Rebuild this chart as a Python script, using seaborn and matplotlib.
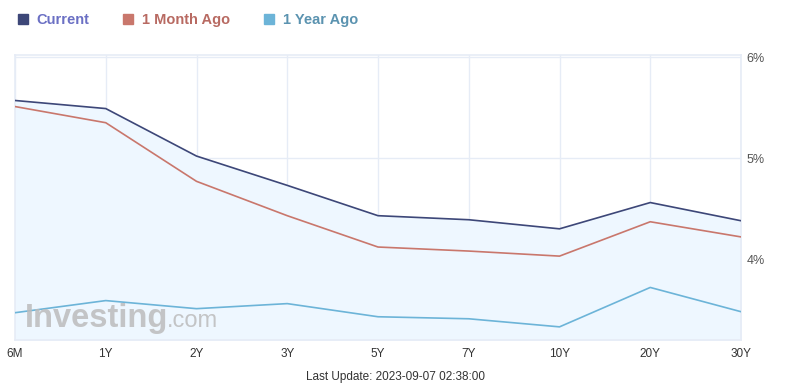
import matplotlib
matplotlib.use("Agg")
import matplotlib.pyplot as plt
import seaborn as sns
import pandas as pd
import numpy as np
from matplotlib.patches import Patch

maturities = ["6M", "1Y", "2Y", "3Y", "5Y", "7Y", "10Y", "20Y", "30Y"]
current = [5.57, 5.49, 5.02, 4.73, 4.43, 4.39, 4.30, 4.56, 4.38]
month_ago = [5.51, 5.35, 4.77, 4.43, 4.12, 4.08, 4.03, 4.37, 4.22]
year_ago = [3.47, 3.59, 3.51, 3.56, 3.43, 3.41, 3.33, 3.72, 3.48]
series_names = ["Current", "1 Month Ago", "1 Year Ago"]
y_ticks = [4, 5, 6]

line_colors = ["#3d4778", "#c9776c", "#6cb4d8"]
text_colors = ["#6b70c4", "#b86a62", "#5b93b0"]

sns.set_theme(style="white")
plt.rcParams["font.family"] = ["Liberation Sans", "DejaVu Sans"]

df = pd.DataFrame({
    "maturity": maturities * 3,
    "pos": list(range(len(maturities))) * 3,
    "yield": current + month_ago + year_ago,
    "series": [s for s in series_names for _ in maturities],
})

W, H = 789, 391
fig = plt.figure(figsize=(W / 100, H / 100), dpi=100)
ax = fig.add_axes([15 / W, 1 - 340 / H, (741 - 15) / W, (340 - 55) / H])

pos = np.arange(len(maturities))
ax.fill_between(pos, current, 3.0, color="#eef7ff", zorder=1)

sns.lineplot(data=df, x="pos", y="yield", hue="series", hue_order=series_names,
             palette=line_colors, linewidth=1.2, ax=ax, legend=False, zorder=3)

ax.set_xlim(0, len(maturities) - 1)
ax.set_ylim(3.2, 6.02)
ax.set_xticks(pos)
ax.set_xticklabels(maturities)
ax.set_yticks(y_ticks)
ax.set_yticklabels([f"{v}%" for v in y_ticks])
ax.yaxis.tick_right()
ax.tick_params(axis="y", length=0, pad=4, labelsize=9, labelcolor="#555555")
ax.tick_params(axis="x", length=0, pad=6, labelsize=8.5, labelcolor="#333333")
ax.set_xlabel("")
ax.set_ylabel("")
ax.grid(True, color="#e6ecf6", linewidth=1)
ax.set_axisbelow(True)
for sp in ax.spines.values():
    sp.set_color("#e6ecf6")
    sp.set_linewidth(1.2)

# watermark
fig.text(25 / W, 1 - 327 / H, "Investing", fontsize=23.5, fontweight="bold",
         color="#bcbcbc", alpha=0.85, zorder=5, va="baseline", ha="left")
fig.text(167 / W, 1 - 327 / H, ".com", fontsize=17,
         color="#bcbcbc", alpha=0.85, zorder=5, va="baseline", ha="left")

handles = [Patch(facecolor=c, edgecolor=c) for c in line_colors]
leg = fig.legend(handles, series_names, loc="upper left", bbox_to_anchor=(0.006, 1.0),
                 ncol=3, frameon=False, handlelength=0.7, handleheight=0.7,
                 handletextpad=0.6, columnspacing=2.3,
                 prop={"weight": "bold", "size": 10.5}, labelcolor=text_colors)

fig.text(395 / W, 1 - 377 / H, "Last Update: 2023-09-07 02:38:00", ha="center",
         va="center", fontsize=8.5, color="#333333")

fig.savefig("out.png", dpi=100)
